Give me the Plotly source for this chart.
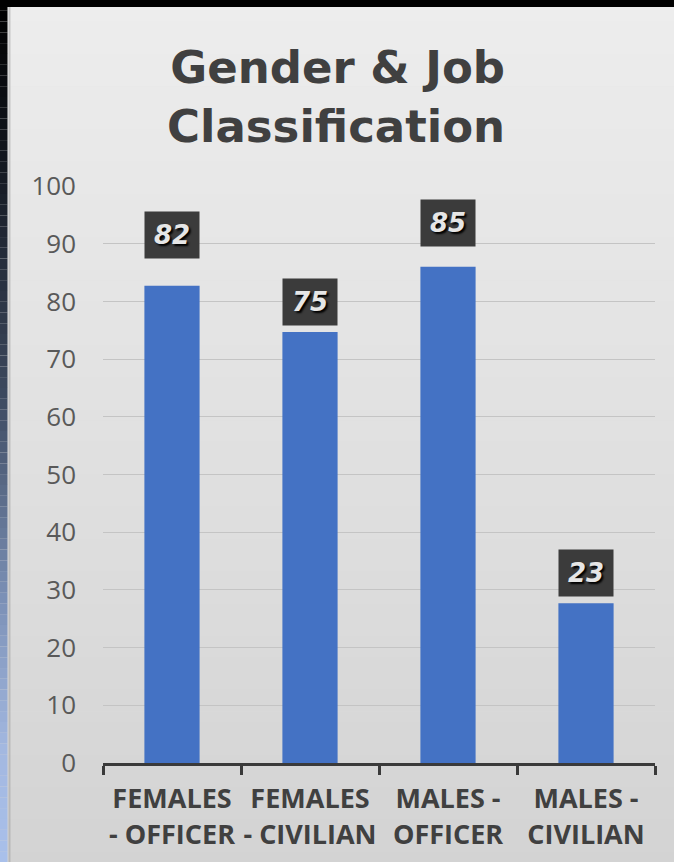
import plotly.graph_objects as go

categories = ["FEMALES<br>- OFFICER", "FEMALES<br>- CIVILIAN", "MALES -<br>OFFICER", "MALES -<br>CIVILIAN"]
bar_values = [82.7, 74.7, 86.0, 27.7]
label_texts = ["82", "75", "85", "23"]
y_ticks = [0, 10, 20, 30, 40, 50, 60, 70, 80, 90, 100]

W, H = 674, 862
ML, MR, MT, MB = 103, 19, 186, 99
PW, PH = W - ML - MR, H - MT - MB


def px(x):
    return (x - ML) / PW


def py(y):
    return (H - MB - y) / PH


def hex2rgb(h):
    h = h.lstrip("#")
    return tuple(int(h[i:i + 2], 16) for i in (0, 2, 4))


def lerp_stops(stops, t):
    for (t0, c0), (t1, c1) in zip(stops, stops[1:]):
        if t0 <= t <= t1:
            f = (t - t0) / (t1 - t0) if t1 > t0 else 0
            a, b = hex2rgb(c0), hex2rgb(c1)
            return "rgb(%d,%d,%d)" % tuple(round(a[i] + (b[i] - a[i]) * f) for i in range(3))
    return stops[-1][1]


shapes = []
N = 80
gray_stops = [(0, "#ededed"), (0.5, "#e1e1e1"), (1, "#d3d3d3")]
left_stops = [(0, "#000000"), (0.18, "#12161e"), (0.46, "#3d4a60"), (0.7, "#7d92b8"), (0.87, "#a3b8e0"), (1, "#a9c0ea")]
for i in range(N):
    y0 = H * i / N
    y1 = H * (i + 1) / N + 0.6
    t = (i + 0.5) / N
    shapes.append(dict(type="rect", xref="paper", yref="paper", layer="below",
                       x0=px(0), x1=px(W), y0=py(y0), y1=py(y1),
                       fillcolor=lerp_stops(gray_stops, t), line_width=0))
    shapes.append(dict(type="rect", xref="paper", yref="paper", layer="below",
                       x0=px(0), x1=px(7.5), y0=py(y0), y1=py(y1),
                       fillcolor=lerp_stops(left_stops, t), line_width=0))
shapes.append(dict(type="rect", xref="paper", yref="paper", layer="below",
                   x0=px(0), x1=px(W), y0=py(0), y1=py(7),
                   fillcolor="#000000", line_width=0))
shapes.append(dict(type="line", xref="paper", yref="paper", layer="below",
                   x0=px(9.5), x1=px(9.5), y0=py(7), y1=py(H),
                   line=dict(color="rgba(150,150,150,0.45)", width=2)))

fig = go.Figure()
fig.add_trace(go.Bar(
    x=categories, y=bar_values, width=0.4,
    marker=dict(color="#4472c4", line_width=0),
    hoverinfo="skip",
))

label_shift = [27, 6, 20, 6]
for cat, val, txt, sh in zip(categories, bar_values, label_texts, label_shift):
    fig.add_annotation(
        x=cat, y=val, xref="x", yref="y", yanchor="bottom", yshift=sh,
        text="<b><i>%s</i></b>" % txt, showarrow=False,
        bgcolor="#3b3b3b", width=54, height=46, borderpad=0,
        font=dict(family="DejaVu Sans", size=26, color="#e6e6e6",
                  shadow="2px 2px 2px #000000"),
    )

fig.add_annotation(text="<b>Gender & Job<br>Classification</b>", xref="paper", yref="paper",
                   x=px(507), y=py(97), xanchor="right", yanchor="middle", align="right",
                   showarrow=False, font=dict(family="DejaVu Sans", size=45, color="#404040"))

fig.update_layout(
    width=W, height=H,
    margin=dict(l=ML, r=MR, t=MT, b=MB, pad=0, autoexpand=False),
    paper_bgcolor="#dedede",
    plot_bgcolor="rgba(0,0,0,0)",
    showlegend=False,
    shapes=shapes,
    bargap=0.6,
)
fig.update_xaxes(
    range=[-0.5, 3.5], showgrid=False, showline=True, linecolor="#3a3a3a", linewidth=3,
    ticks="outside", tickson="boundaries", ticklen=9, tickwidth=3, tickcolor="#3a3a3a",
    tickfont=dict(family="Open Sans", size=27, color="#404040", weight="bold"),
    ticklabelstandoff=10, zeroline=False, tickangle=0, automargin=False,
)
fig.update_yaxes(
    range=[0, 100], tickvals=y_ticks, showgrid=True, gridcolor="#c4c4c4", gridwidth=1,
    showline=False, zeroline=False, ticks="",
    tickfont=dict(family="Open Sans", size=26, color="#595959"),
    ticklabelstandoff=26, automargin=False,
)

fig.write_html("out.html", config={"displayModeBar": False},
               post_script="document.body.style.margin='0';document.body.style.background='#000';")
